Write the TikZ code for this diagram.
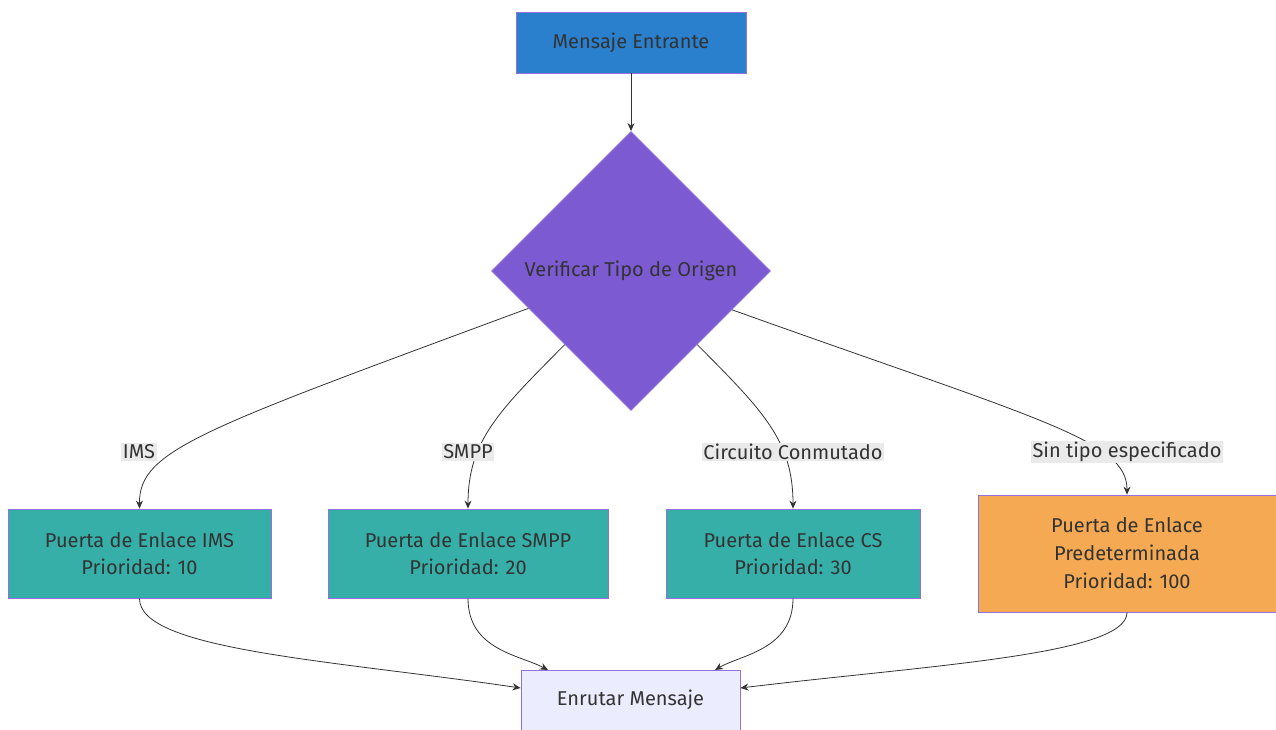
\documentclass[tikz,border=0pt]{standalone}
\usepackage{fontspec}
\setmainfont{Fira Sans}
\usetikzlibrary{shapes.geometric,arrows.meta}
\definecolor{txt}{HTML}{333333}
\definecolor{strk}{HTML}{9370DB}
\definecolor{bluefill}{HTML}{2B80CE}
\definecolor{purplefill}{HTML}{7C5AD2}
\definecolor{tealfill}{HTML}{36AFA9}
\definecolor{orangefill}{HTML}{F4A952}
\definecolor{endfill}{HTML}{ECECFF}
\definecolor{lblfill}{HTML}{EAEAEA}
\definecolor{edgec}{HTML}{333333}
\tikzset{
  box/.style={rectangle, draw=strk, line width=0.8pt, text=txt, align=center, inner sep=0pt, font=\fontsize{20}{27}\selectfont},
  dia/.style={diamond, draw=strk, line width=0.8pt, fill=purplefill, text=txt, inner sep=0pt, minimum width=279pt, minimum height=279pt, font=\fontsize{20}{24}\selectfont},
  lbl/.style={fill=lblfill, text=txt, inner sep=1.5pt, font=\fontsize{20}{24}\selectfont},
  conn/.style={draw=edgec, line width=0.8pt, -{Stealth[length=8pt,width=7pt]}},
}
\begin{document}
\begin{tikzpicture}[x=1pt,y=-1pt]
\useasboundingbox (0,0) rectangle (1276,729);
\node[box, fill=bluefill, minimum width=230pt, minimum height=61pt] (start) at (631,42.5) {Mensaje Entrante};
\node[dia] (check) at (631,271) {Verificar Tipo de Origen};
\node[box, fill=tealfill, minimum width=263pt, minimum height=89pt] (ims) at (139.5,553.5) {Puerta de Enlace IMS\\Prioridad: 10};
\node[box, fill=tealfill, minimum width=280pt, minimum height=89pt] (smpp) at (468,553.5) {Puerta de Enlace SMPP\\Prioridad: 20};
\node[box, fill=tealfill, minimum width=254pt, minimum height=89pt] (cs) at (793,553.5) {Puerta de Enlace CS\\Prioridad: 30};
\node[box, fill=orangefill, minimum width=298pt, minimum height=117pt, font=\fontsize{20}{28}\selectfont] (def) at (1127,553.5) {Puerta de Enlace\\Predeterminada\\Prioridad: 100};
\node[box, fill=endfill, minimum width=219pt, minimum height=60pt] (route) at (630.5,700) {Enrutar Mensaje};

\draw[conn] (start) -- (check);

\draw[conn] (check.200) .. controls (200,430) and (139,450) .. (ims.north);
\draw[conn] (check.228) .. controls (500,410) and (468,440) .. (smpp.north);
\draw[conn] (check.312) .. controls (762,410) and (793,440) .. (cs.north);
\draw[conn] (check.339) .. controls (1040,420) and (1127,440) .. (def.north);

\node[lbl] (l1) at (139,452) {IMS};
\node[lbl] (l2) at (468,452) {SMPP};
\node[lbl] (l3) at (793,452) {Circuito Conmutado};
\node[lbl] (l4) at (1127,452) {Sin tipo especificado};

\draw[conn] (ims.south) .. controls (139,650) and (330,660) .. (route.west |- 0,688);
\draw[conn] (smpp.south) .. controls (468,650) and (520,655) .. (548,670);
\draw[conn] (cs.south) .. controls (793,650) and (740,655) .. (715,670);
\draw[conn] (def.south) .. controls (1127,655) and (930,665) .. (route.east |- 0,688);
\end{tikzpicture}
\end{document}
